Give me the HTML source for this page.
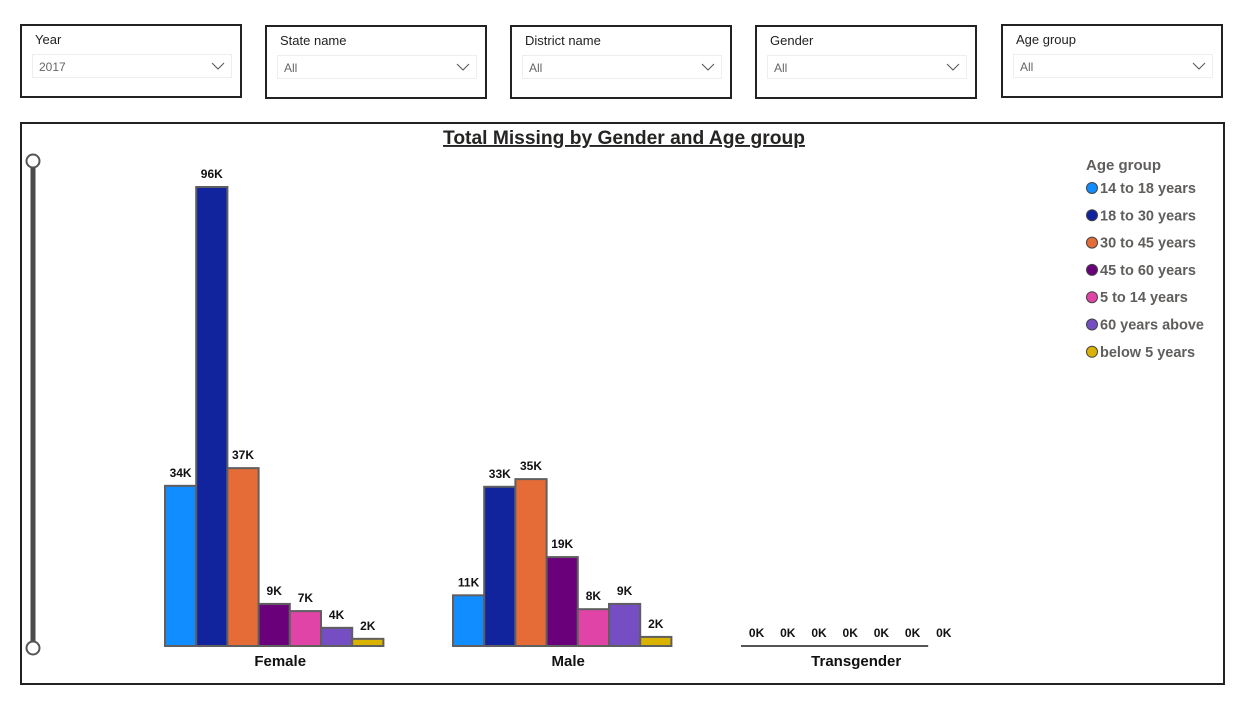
<!DOCTYPE html>
<html><head><meta charset="utf-8"><style>
body{margin:0;width:1241px;height:704px;background:#fff;font-family:"Liberation Sans",sans-serif;position:relative;overflow:hidden}
.sl{position:absolute;top:24px;width:222px;height:74px;border:2px solid #222;box-sizing:border-box;background:#fff}
.sl .t{position:absolute;left:13px;top:6px;font-size:13px;color:#222}
.sl .d{position:absolute;left:10px;top:28px;width:200px;height:24px;border:1px solid #eee;box-sizing:border-box;font-size:12px;color:#666;padding:5px 6px}
.sl .d svg{position:absolute;right:6px;top:7px}
</style></head><body>
<div class="sl" style="left:20px"><div class="t">Year</div><div class="d">2017<svg width="14" height="8"><path d="M1 1L7 7L13 1" fill="none" stroke="#555"/></svg></div></div>
<div class="sl" style="left:265px;top:25px"><div class="t">State name</div><div class="d">All<svg width="14" height="8"><path d="M1 1L7 7L13 1" fill="none" stroke="#555"/></svg></div></div>
<div class="sl" style="left:510px;top:25px"><div class="t">District name</div><div class="d">All<svg width="14" height="8"><path d="M1 1L7 7L13 1" fill="none" stroke="#555"/></svg></div></div>
<div class="sl" style="left:755px;top:25px"><div class="t">Gender</div><div class="d">All<svg width="14" height="8"><path d="M1 1L7 7L13 1" fill="none" stroke="#555"/></svg></div></div>
<div class="sl" style="left:1001px"><div class="t">Age group</div><div class="d">All<svg width="14" height="8"><path d="M1 1L7 7L13 1" fill="none" stroke="#555"/></svg></div></div>
<svg id="chart" width="1241" height="704" style="position:absolute;left:0;top:0;pointer-events:none">
<rect x="21" y="123" width="1203" height="561" fill="none" stroke="#222" stroke-width="2"/>
<text x="624" y="144" text-anchor="middle" font-size="19" font-weight="bold" fill="#252423" text-decoration="underline" textLength="362" lengthAdjust="spacingAndGlyphs">Total Missing by Gender and Age group</text>
<line x1="33" y1="161" x2="33" y2="648" stroke="#4a4a4a" stroke-width="5"/>
<circle cx="33" cy="161" r="6.5" fill="#fff" stroke="#555" stroke-width="2"/>
<circle cx="33" cy="648" r="6.5" fill="#fff" stroke="#555" stroke-width="2"/>
<g id="bars"></g>
<g id="legend"></g>
</svg>
<script>
const categories=["Female","Male","Transgender"];
const ageGroups=["14 to 18 years","18 to 30 years","30 to 45 years","45 to 60 years","5 to 14 years","60 years above","below 5 years"];
const colors=["#118DFF","#12239E","#E66C37","#6B007B","#E044A7","#744EC2","#D9B300"];
const female=[33.5,96,37.2,8.8,7.3,3.8,1.5];
const male=[10.6,33.3,34.9,18.6,7.7,8.8,1.9];
const transgender=[0,0,0,0,0,0,0];
const series=[female,male,transgender];
const NS="http://www.w3.org/2000/svg";
const base=646, pxPerK=459/96, barW=31.2, groupStart=165, groupStep=288;
const y=v=>base-v*pxPerK;
const xb=(g,i)=>groupStart+g*groupStep+i*barW;
const bars=document.getElementById('bars');
function mk(tag,attrs){const e=document.createElementNS(NS,tag);for(const k in attrs)e.setAttribute(k,attrs[k]);return e;}
series.forEach((vals,g)=>{
  vals.forEach((v,i)=>{
    const x=xb(g,i);
    if(v>0){
      const r=mk('rect',{x:x,y:y(v),width:barW,height:base-y(v),fill:colors[i],stroke:'#5f5f5f','stroke-width':2});
      
      
      bars.appendChild(r);
    }
    const t=mk('text',{x:x+barW/2,y:y(v)-(g==2?9:9),'text-anchor':'middle','font-size':12,'font-weight':'bold',fill:'#111'});
    t.textContent=Math.round(v)+'K';
    
    
    bars.appendChild(t);
  });
  if(g==2){const l=mk('line',{x1:xb(g,0),x2:xb(g,6),y1:base,y2:base,stroke:'#555','stroke-width':2});bars.appendChild(l);}
  const c=mk('text',{x:xb(g,0)+barW*3.5+6,y:666,'text-anchor':'middle','font-size':15,'font-weight':'bold',fill:'#111'});
  c.textContent=categories[g];
  
  
  bars.appendChild(c);
});
const lg=document.getElementById('legend');
const lt=mk('text',{x:1086,y:170,'font-size':15,'font-weight':'bold',fill:'#605E5C'});
lt.textContent='Age group';


lg.appendChild(lt);
ageGroups.forEach((a,i)=>{
  const yy=188+i*27.3;
  const c=mk('circle',{cx:1092,cy:yy,r:5.5,fill:colors[i],stroke:'#444','stroke-width':1});
  
  
  lg.appendChild(c);
  const t=mk('text',{x:1100,y:yy+5,'font-size':14.5,'font-weight':'bold',fill:'#605E5C'});
  t.textContent=a;
  
  
  lg.appendChild(t);
});
</script>
</body></html>
